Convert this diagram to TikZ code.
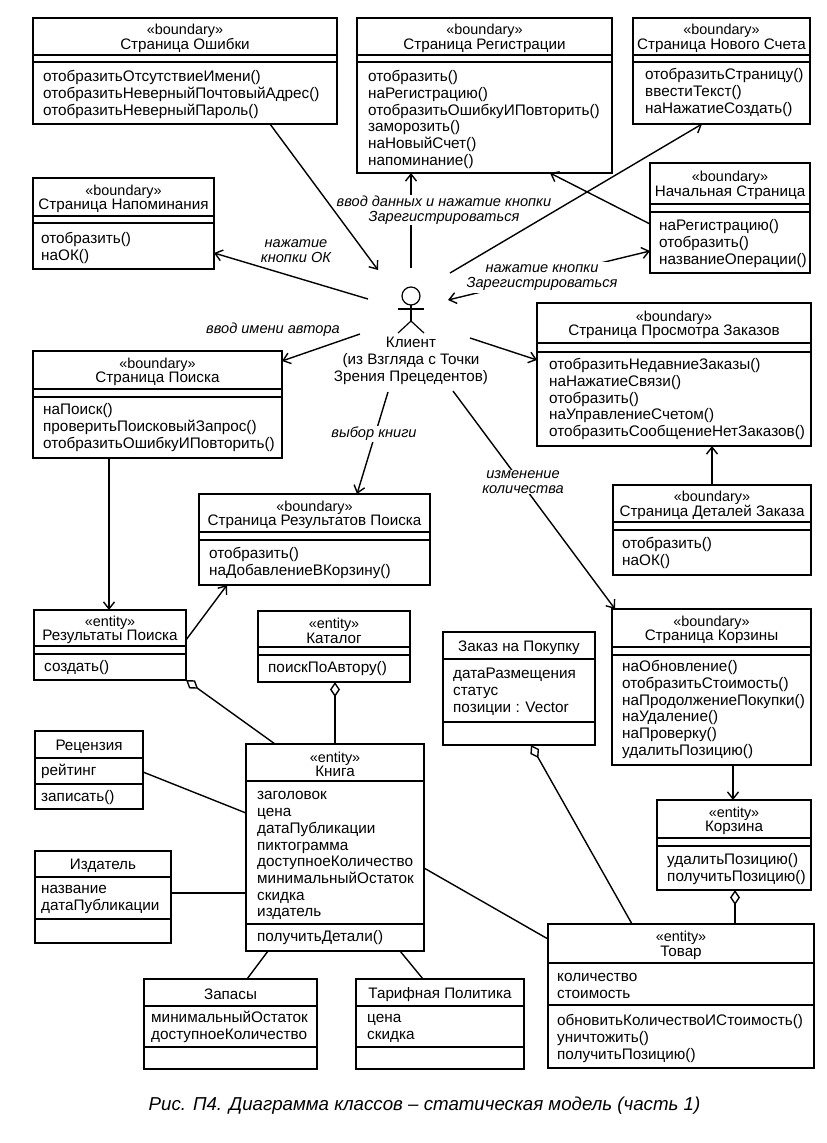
\documentclass[tikz,border=0pt]{standalone}
\usepackage{fontspec}
\setmainfont{Liberation Sans}
\usetikzlibrary{arrows.meta,positioning,calc,shapes.geometric}

% рамка класса с заголовком и линиями отсеков
\newcommand{\classbox}[7]{%
  \node[classframe, minimum width={(#4-#2)*1pt}, minimum height={(#5-#3)*1pt}] (#1) at ({(#2+#4)/2},{(#3+#5)/2}) {};
  \foreach \sy [count=\si] in {#7} {
    \ifnum\si=1 \node[classhead] (#1head) at ({(#2+#4)/2},{(#3+\sy)/2}) {#6}; \fi
    \draw[classline] (#1.west |- 0,\sy) -- (#1.east |- 0,\sy);
  }
}
\newcommand{\stereo}[1]{{\fontsize{14.4}{14.5}\selectfont«#1»}}

\begin{document}
\begin{tikzpicture}[x=1pt, y=-1pt]
    \tikzstyle{classframe} = [rectangle, draw, line width=1.6pt, outer sep=0pt, inner sep=0pt]
    \tikzstyle{classline} = [line width=1.6pt]
    \tikzstyle{classhead} = [align=center, inner sep=0pt, yshift=-2pt, font=\fontsize{15.2}{14.5}\selectfont]
    \tikzstyle{members} = [anchor=north west, align=left, inner sep=0pt, font=\fontsize{15.3}{16.7}\selectfont]
    \tikzstyle{msg} = [align=center, inner sep=1pt, fill=white, font=\fontsize{14.6}{14.5}\selectfont\itshape]
    \tikzstyle{assoc} = [line width=1.4pt]
    \tikzstyle{arrow} = [line width=1.4pt, -{Straight Barb[length=7pt,width=11pt]}]
    \tikzstyle{twoway} = [line width=1.4pt, {Straight Barb[length=7pt,width=11pt]}-{Straight Barb[length=7pt,width=11pt]}]
    \tikzstyle{aggr} = [line width=1.4pt, {Diamond[open,length=15pt,width=10pt]}-]

    \useasboundingbox (0,0) rectangle (827,1143);

    % Классы
    \classbox{errpage}{33}{18}{337}{124}{\stereo{boundary}\\Страница Ошибки}{55,62}
    \node[members] (errops) at (43,70) {\strut отобразитьОтсутствиеИмени()\\отобразитьНеверныйПочтовыйАдрес()\\отобразитьНеверныйПароль()};
    \classbox{regpage}{357}{18}{612}{173}{\stereo{boundary}\\Страница Регистрации}{55,62}
    \node[members] (regops) at (368,70) {\strut отобразить()\\наРегистрацию()\\отобразитьОшибкуИПовторить()\\заморозить()\\наНовыйСчет()\\напоминание()};
    \classbox{newacc}{633}{18}{810}{124}{\stereo{boundary}\\Страница Нового Счета}{55,62}
    \node[members] (newops) at (645,68) {\strut отобразитьСтраницу()\\ввестиТекст()\\наНажатиеСоздать()};
    \classbox{startpage}{650}{163}{810}{273}{\stereo{boundary}\\Начальная Страница}{204,212}
    \node[members] (startops) at (659,219) {\strut наРегистрацию()\\отобразить()\\названиеОперации()};
    \classbox{remind}{33}{178}{214}{269}{\stereo{boundary}\\Страница Напоминания}{216,223}
    \node[members] (remops) at (41,232) {\strut отобразить()\\наОК()};
    \classbox{search}{33}{351}{282}{458}{\stereo{boundary}\\Страница Поиска}{389,397}
    \node[members] (searchops) at (43,403) {\strut наПоиск()\\проверитьПоисковыйЗапрос()\\отобразитьОшибкуИПовторить()};
    \classbox{orders}{537}{303}{811}{446}{\stereo{boundary}\\Страница Просмотра Заказов}{343,352}
    \node[members] (ordops) at (549,358) {\strut отобразитьНедавниеЗаказы()\\наНажатиеСвязи()\\отобразить()\\наУправлениеСчетом()\\отобразитьСообщениеНетЗаказов()};
    \classbox{details}{613}{485}{811}{575}{\stereo{boundary}\\Страница Деталей Заказа}{522,530}
    \node[members] (detops) at (622,537) {\strut отобразить()\\наОК()};
    \classbox{respage}{199}{494}{430}{585}{\stereo{boundary}\\Страница Результатов Поиска}{532,540}
    \node[members] (respops) at (209,547) {\strut отобразить()\\наДобавлениеВКорзину()};
    \classbox{reslist}{34}{610}{186}{680}{\stereo{entity}\\Результаты Поиска}{646,654}
    \node[members] (resops) at (44,660) {\strut создать()};
    \classbox{catalog}{258}{611}{410}{682}{\stereo{entity}\\Каталог}{647,655}
    \node[members] (catops) at (268,661) {\strut поискПоАвтору()};
    \classbox{order}{443}{632}{595}{745}{Заказ на Покупку}{659,722}
    \node[members] (ordattr) at (453,667) {\strut датаРазмещения\\статус\\позиции : Vector};
    \classbox{cartpage}{612}{609}{811}{765}{\stereo{boundary}\\Страница Корзины}{647,655}
    \node[members] (cpops) at (622,660) {\strut наОбновление()\\отобразитьСтоимость()\\наПродолжениеПокупки()\\наУдаление()\\наПроверку()\\удалитьПозицию()};
    \classbox{cart}{657}{800}{811}{890}{\stereo{entity}\\Корзина}{838,846}
    \node[members] (cartops) at (667,853) {\strut удалитьПозицию()\\получитьПозицию()};
    \classbox{review}{35}{731}{143}{809}{Рецензия}{758,784}
    \node[members] (revattr) at (41,764) {\strut рейтинг};
    \node[members] (revops) at (41,790) {\strut записать()};
    \classbox{publisher}{35}{851}{171}{943}{Издатель}{877,919}
    \node[members] (pubattr) at (41,882) {\strut название\\датаПубликации};
    \classbox{book}{246}{744}{424}{951}{\stereo{entity}\\Книга}{781,924}
    \node[members] (bookattr) at (257,788) {\strut заголовок\\цена\\датаПубликации\\пиктограмма\\доступноеКоличество\\минимальныйОстаток\\скидка\\издатель};
    \node[members] (bookops) at (257,930) {\strut получитьДетали()};
    \classbox{stock}{144}{979}{317}{1069}{Запасы}{1006,1047}
    \node[members] (stockattr) at (151,1011) {\strut минимальныйОстаток\\доступноеКоличество};
    \classbox{tariff}{356}{979}{524}{1069}{Тарифная Политика}{1006,1047}
    \node[members] (tarattr) at (367,1011) {\strut цена\\скидка};
    \classbox{goods}{548}{924}{814}{1068}{\stereo{entity}\\Товар}{963,1005}
    \node[members] (goodsattr) at (557,970) {\strut количество\\стоимость};
    \node[members] (goodsops) at (557,1014) {\strut обновитьКоличествоИСтоимость()\\уничтожить()\\получитьПозицию()};

    % Актер
    \node[circle, draw, line width=1.2pt, minimum size=18pt, inner sep=0pt, outer sep=0pt] (head) at (411,296) {};
    \coordinate (hip) at (411,321);
    \coordinate (lefthand) at (398,309);
    \coordinate (righthand) at (424,309);
    \coordinate (leftfoot) at (398,333);
    \coordinate (rightfoot) at (424,333);
    \draw[line width=1.2pt] (head.south) -- (hip);
    \draw[line width=1.2pt] (lefthand) -- (righthand);
    \draw[line width=1.2pt] (leftfoot) -- (hip) -- (rightfoot);
    \node[align=center, inner sep=0pt, font=\fontsize{15.2}{16.7}\selectfont] (client) at (411,361) {Клиент\\(из Взгляда с Точки\\Зрения Прецедентов)};

    % концы связей у актера
    \coordinate (c1) at (378,270);
    \coordinate (c2) at (368,299);
    \coordinate (c3) at (411,268);
    \coordinate (c4) at (450,273);
    \coordinate (c5) at (448,300);
    \coordinate (c6) at (360,334);
    \coordinate (c7) at (470,338);
    \coordinate (c8) at (388,392);
    \coordinate (c9) at (453,391);

    % Связи с разрывом под подписью
    \draw[arrow] (c3) -- ([xshift=-73.5pt]regpage.south);
    \draw[twoway] (c5) -- ([yshift=-33pt]startpage.west);
    \draw[arrow] (c8) -- ([xshift=42.5pt]respage.north);
    \draw[arrow] (c9) -- ([xshift=-96.5pt]cartpage.north);

    % Подписи
    \node[msg] (okmsg) at (296,251) {нажатие\\кнопки ОК};
    \node[msg] (regmsg) at (444,210) {ввод данных и нажатие кнопки\\Зарегистрироваться};
    \node[msg, inner ysep=2.5pt] (startmsg) at (542,277.5) {нажатие кнопки\\Зарегистрироваться};
    \node[msg] (authormsg) at (273,330) {ввод имени автора};
    \node[msg] (bookmsg) at (374,434) {выбор книги};
    \node[msg] (qtymsg) at (523,482) {изменение\\количества};
    \node[inner sep=0pt, font=\fontsize{18.7}{20}\selectfont\itshape] (caption) at (424.5,1106) {Рис. П4. Диаграмма классов – статическая модель (часть 1)};

    % Связи
    \draw[arrow] ([xshift=85pt]errpage.south) -- (c1);
    \draw[arrow] (c2) -- ([yshift=-29.5pt]remind.east);
    \draw[arrow] (c4) -- ([xshift=-19.5pt]newacc.south);
    \draw[arrow] ([yshift=-6pt]startpage.west) -- ([xshift=65.5pt]regpage.south);
    \draw[arrow] (c6) -- ([yshift=43.5pt]search.east);
    \draw[arrow] (c7) -- ([yshift=14.5pt]orders.west);
    \draw[arrow] (details.north) -- ([xshift=38pt]orders.south);
    \draw[arrow] ([xshift=-48.5pt]search.south) -- ([xshift=-1pt]reslist.north);
    \draw[arrow] ([yshift=5pt]reslist.east) -- ([xshift=-87.5pt]respage.south);
    \draw[arrow] ([xshift=21.5pt]cartpage.south) -- ([xshift=-1pt]cart.north);
    \draw[aggr] (reslist.south east) -- ([xshift=-60pt]book.north);
    \draw[aggr] ([xshift=1pt]catalog.south) -- (book.north);
    \draw[aggr] ([xshift=12pt]order.south) -- ([xshift=-49pt]goods.north);
    \draw[aggr] ([xshift=1pt]cart.south) -- ([xshift=54pt]goods.north);
    \draw[assoc] ([yshift=-2pt]review.east) -- ([yshift=34.5pt]book.west);
    \draw[assoc] ([yshift=4pt]publisher.east) -- ([yshift=-45.5pt]book.west);
    \draw[assoc] ([xshift=-67pt]book.south) -- ([xshift=16.5pt]stock.north);
    \draw[assoc] ([xshift=65pt]book.south) -- ([xshift=-17pt]tariff.north);
    \draw[assoc] ([yshift=-20.5pt]book.east) -- ([yshift=57pt]goods.west);
\end{tikzpicture}
\end{document}
